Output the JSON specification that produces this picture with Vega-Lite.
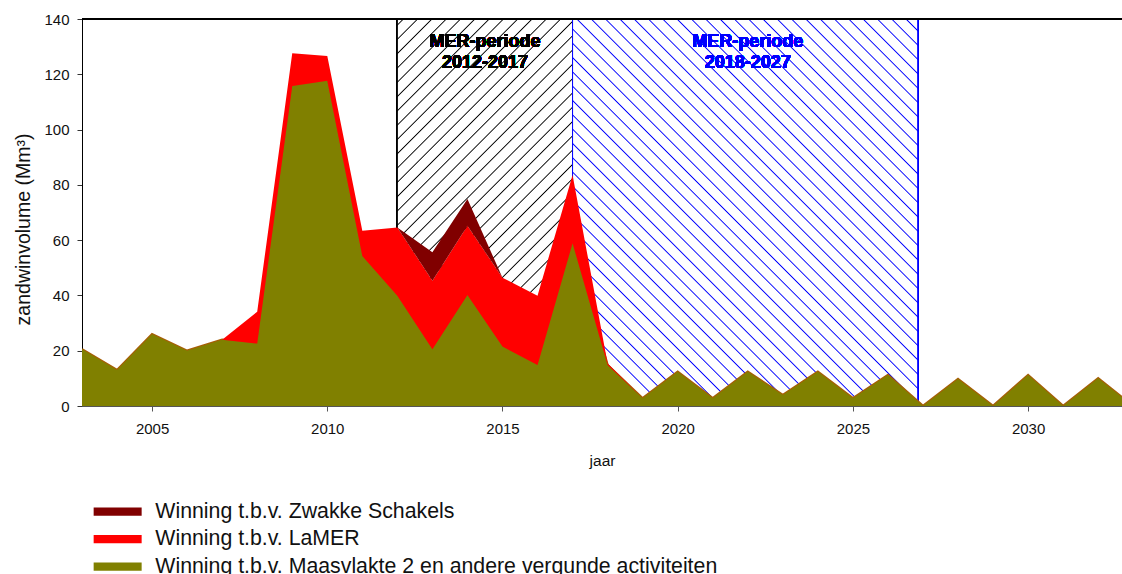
{
  "$schema": "https://vega.github.io/schema/vega-lite/v6.json",
  "autosize": {"type": "none"},
  "width": 1040,
  "height": 387,
  "padding": {"left": 82, "top": 19, "right": 0, "bottom": 168},
  "background": "white",
  "config": {"view": {"stroke": null}, "font": "Liberation Sans"},
  "data": {"values": [
    {"jaar": 2003, "s1_MV2": 20.5, "s2_LaMER": 0, "s3_ZS": 0},
    {"jaar": 2004, "s1_MV2": 13, "s2_LaMER": 0, "s3_ZS": 0},
    {"jaar": 2005, "s1_MV2": 26, "s2_LaMER": 0, "s3_ZS": 0},
    {"jaar": 2006, "s1_MV2": 20, "s2_LaMER": 0, "s3_ZS": 0},
    {"jaar": 2007, "s1_MV2": 24, "s2_LaMER": 0, "s3_ZS": 0},
    {"jaar": 2008, "s1_MV2": 22.6, "s2_LaMER": 11.5, "s3_ZS": 0},
    {"jaar": 2009, "s1_MV2": 115.8, "s2_LaMER": 11.8, "s3_ZS": 0},
    {"jaar": 2010, "s1_MV2": 117.7, "s2_LaMER": 8.9, "s3_ZS": 0},
    {"jaar": 2011, "s1_MV2": 54.3, "s2_LaMER": 9.1, "s3_ZS": 0},
    {"jaar": 2012, "s1_MV2": 39.9, "s2_LaMER": 24.7, "s3_ZS": 0},
    {"jaar": 2013, "s1_MV2": 20.5, "s2_LaMER": 24.8, "s3_ZS": 10.3},
    {"jaar": 2014, "s1_MV2": 40.2, "s2_LaMER": 25, "s3_ZS": 9.7},
    {"jaar": 2015, "s1_MV2": 21.5, "s2_LaMER": 24.9, "s3_ZS": 0},
    {"jaar": 2016, "s1_MV2": 14.8, "s2_LaMER": 25.1, "s3_ZS": 0},
    {"jaar": 2017, "s1_MV2": 58.9, "s2_LaMER": 24.7, "s3_ZS": 0},
    {"jaar": 2018, "s1_MV2": 14.8, "s2_LaMER": 0.6, "s3_ZS": 0},
    {"jaar": 2019, "s1_MV2": 2.8, "s2_LaMER": 0, "s3_ZS": 0},
    {"jaar": 2020, "s1_MV2": 12.4, "s2_LaMER": 0, "s3_ZS": 0},
    {"jaar": 2021, "s1_MV2": 2.8, "s2_LaMER": 0, "s3_ZS": 0},
    {"jaar": 2022, "s1_MV2": 12.4, "s2_LaMER": 0, "s3_ZS": 0},
    {"jaar": 2023, "s1_MV2": 4, "s2_LaMER": 0, "s3_ZS": 0},
    {"jaar": 2024, "s1_MV2": 12.4, "s2_LaMER": 0, "s3_ZS": 0},
    {"jaar": 2025, "s1_MV2": 2.8, "s2_LaMER": 0, "s3_ZS": 0},
    {"jaar": 2026, "s1_MV2": 11.2, "s2_LaMER": 0, "s3_ZS": 0},
    {"jaar": 2027, "s1_MV2": 0, "s2_LaMER": 0, "s3_ZS": 0},
    {"jaar": 2028, "s1_MV2": 9.8, "s2_LaMER": 0, "s3_ZS": 0},
    {"jaar": 2029, "s1_MV2": 0, "s2_LaMER": 0, "s3_ZS": 0},
    {"jaar": 2030, "s1_MV2": 11.2, "s2_LaMER": 0, "s3_ZS": 0},
    {"jaar": 2031, "s1_MV2": 0, "s2_LaMER": 0, "s3_ZS": 0},
    {"jaar": 2032, "s1_MV2": 10, "s2_LaMER": 0, "s3_ZS": 0},
    {"jaar": 2033, "s1_MV2": 0, "s2_LaMER": 0, "s3_ZS": 0}
  ]},
  "layer": [
    {
      "mark": {"type": "rect", "stroke": "black", "strokeWidth": 1,
        "fill": {"gradient": "linear", "x1": 0, "y1": 0, "x2": 0.5458, "y2": 1.2056, "stops": [
          {"offset": 0.0084, "color": "white"}, {"offset": 0.0107, "color": "black"}, {"offset": 0.0130, "color": "white"},
          {"offset": 0.0338, "color": "white"}, {"offset": 0.0361, "color": "black"}, {"offset": 0.0384, "color": "white"},
          {"offset": 0.0592, "color": "white"}, {"offset": 0.0615, "color": "black"}, {"offset": 0.0638, "color": "white"},
          {"offset": 0.0847, "color": "white"}, {"offset": 0.0870, "color": "black"}, {"offset": 0.0893, "color": "white"},
          {"offset": 0.1101, "color": "white"}, {"offset": 0.1124, "color": "black"}, {"offset": 0.1147, "color": "white"},
          {"offset": 0.1356, "color": "white"}, {"offset": 0.1379, "color": "black"}, {"offset": 0.1402, "color": "white"},
          {"offset": 0.1610, "color": "white"}, {"offset": 0.1633, "color": "black"}, {"offset": 0.1656, "color": "white"},
          {"offset": 0.1864, "color": "white"}, {"offset": 0.1887, "color": "black"}, {"offset": 0.1910, "color": "white"},
          {"offset": 0.2119, "color": "white"}, {"offset": 0.2142, "color": "black"}, {"offset": 0.2165, "color": "white"},
          {"offset": 0.2373, "color": "white"}, {"offset": 0.2396, "color": "black"}, {"offset": 0.2419, "color": "white"},
          {"offset": 0.2627, "color": "white"}, {"offset": 0.2650, "color": "black"}, {"offset": 0.2673, "color": "white"},
          {"offset": 0.2882, "color": "white"}, {"offset": 0.2905, "color": "black"}, {"offset": 0.2928, "color": "white"},
          {"offset": 0.3136, "color": "white"}, {"offset": 0.3159, "color": "black"}, {"offset": 0.3182, "color": "white"},
          {"offset": 0.3391, "color": "white"}, {"offset": 0.3414, "color": "black"}, {"offset": 0.3437, "color": "white"},
          {"offset": 0.3645, "color": "white"}, {"offset": 0.3668, "color": "black"}, {"offset": 0.3691, "color": "white"},
          {"offset": 0.3899, "color": "white"}, {"offset": 0.3922, "color": "black"}, {"offset": 0.3945, "color": "white"},
          {"offset": 0.4154, "color": "white"}, {"offset": 0.4177, "color": "black"}, {"offset": 0.4200, "color": "white"},
          {"offset": 0.4408, "color": "white"}, {"offset": 0.4431, "color": "black"}, {"offset": 0.4454, "color": "white"},
          {"offset": 0.4662, "color": "white"}, {"offset": 0.4685, "color": "black"}, {"offset": 0.4708, "color": "white"},
          {"offset": 0.4917, "color": "white"}, {"offset": 0.4940, "color": "black"}, {"offset": 0.4963, "color": "white"},
          {"offset": 0.5171, "color": "white"}, {"offset": 0.5194, "color": "black"}, {"offset": 0.5217, "color": "white"},
          {"offset": 0.5425, "color": "white"}, {"offset": 0.5448, "color": "black"}, {"offset": 0.5471, "color": "white"},
          {"offset": 0.5680, "color": "white"}, {"offset": 0.5703, "color": "black"}, {"offset": 0.5726, "color": "white"},
          {"offset": 0.5934, "color": "white"}, {"offset": 0.5957, "color": "black"}, {"offset": 0.5980, "color": "white"},
          {"offset": 0.6188, "color": "white"}, {"offset": 0.6211, "color": "black"}, {"offset": 0.6234, "color": "white"},
          {"offset": 0.6443, "color": "white"}, {"offset": 0.6466, "color": "black"}, {"offset": 0.6489, "color": "white"},
          {"offset": 0.6697, "color": "white"}, {"offset": 0.6720, "color": "black"}, {"offset": 0.6743, "color": "white"},
          {"offset": 0.6951, "color": "white"}, {"offset": 0.6974, "color": "black"}, {"offset": 0.6997, "color": "white"},
          {"offset": 0.7206, "color": "white"}, {"offset": 0.7229, "color": "black"}, {"offset": 0.7252, "color": "white"},
          {"offset": 0.7460, "color": "white"}, {"offset": 0.7483, "color": "black"}, {"offset": 0.7506, "color": "white"},
          {"offset": 0.7715, "color": "white"}, {"offset": 0.7738, "color": "black"}, {"offset": 0.7761, "color": "white"},
          {"offset": 0.7969, "color": "white"}, {"offset": 0.7992, "color": "black"}, {"offset": 0.8015, "color": "white"},
          {"offset": 0.8223, "color": "white"}, {"offset": 0.8246, "color": "black"}, {"offset": 0.8269, "color": "white"},
          {"offset": 0.8478, "color": "white"}, {"offset": 0.8501, "color": "black"}, {"offset": 0.8524, "color": "white"},
          {"offset": 0.8732, "color": "white"}, {"offset": 0.8755, "color": "black"}, {"offset": 0.8778, "color": "white"},
          {"offset": 0.8986, "color": "white"}, {"offset": 0.9009, "color": "black"}, {"offset": 0.9032, "color": "white"},
          {"offset": 0.9241, "color": "white"}, {"offset": 0.9264, "color": "black"}, {"offset": 0.9287, "color": "white"},
          {"offset": 0.9495, "color": "white"}, {"offset": 0.9518, "color": "black"}, {"offset": 0.9541, "color": "white"},
          {"offset": 0.9749, "color": "white"}, {"offset": 0.9772, "color": "black"}, {"offset": 0.9795, "color": "white"}
        ]}},
      "encoding": {
        "x": {"datum": 2012, "type": "quantitative", "scale": {"domain": [2003, 2032.68], "nice": false, "zero": false}},
        "x2": {"datum": 2017},
        "y": {"datum": 0, "type": "quantitative", "scale": {"domain": [0, 140], "nice": false}},
        "y2": {"datum": 140}
      }
    },
    {
      "mark": {"type": "rect", "stroke": "#0000ff", "strokeWidth": 1,
        "fill": {"gradient": "linear", "x1": 0, "y1": 1, "x2": 0.9397, "y2": -0.0538, "stops": [
          {"offset": 0.0050, "color": "white"}, {"offset": 0.0068, "color": "#0000ff"}, {"offset": 0.0086, "color": "white"},
          {"offset": 0.0246, "color": "white"}, {"offset": 0.0264, "color": "#0000ff"}, {"offset": 0.0282, "color": "white"},
          {"offset": 0.0441, "color": "white"}, {"offset": 0.0459, "color": "#0000ff"}, {"offset": 0.0477, "color": "white"},
          {"offset": 0.0637, "color": "white"}, {"offset": 0.0655, "color": "#0000ff"}, {"offset": 0.0673, "color": "white"},
          {"offset": 0.0832, "color": "white"}, {"offset": 0.0850, "color": "#0000ff"}, {"offset": 0.0868, "color": "white"},
          {"offset": 0.1028, "color": "white"}, {"offset": 0.1046, "color": "#0000ff"}, {"offset": 0.1064, "color": "white"},
          {"offset": 0.1223, "color": "white"}, {"offset": 0.1241, "color": "#0000ff"}, {"offset": 0.1259, "color": "white"},
          {"offset": 0.1418, "color": "white"}, {"offset": 0.1436, "color": "#0000ff"}, {"offset": 0.1454, "color": "white"},
          {"offset": 0.1614, "color": "white"}, {"offset": 0.1632, "color": "#0000ff"}, {"offset": 0.1650, "color": "white"},
          {"offset": 0.1809, "color": "white"}, {"offset": 0.1827, "color": "#0000ff"}, {"offset": 0.1845, "color": "white"},
          {"offset": 0.2005, "color": "white"}, {"offset": 0.2023, "color": "#0000ff"}, {"offset": 0.2041, "color": "white"},
          {"offset": 0.2200, "color": "white"}, {"offset": 0.2218, "color": "#0000ff"}, {"offset": 0.2236, "color": "white"},
          {"offset": 0.2396, "color": "white"}, {"offset": 0.2414, "color": "#0000ff"}, {"offset": 0.2432, "color": "white"},
          {"offset": 0.2591, "color": "white"}, {"offset": 0.2609, "color": "#0000ff"}, {"offset": 0.2627, "color": "white"},
          {"offset": 0.2787, "color": "white"}, {"offset": 0.2805, "color": "#0000ff"}, {"offset": 0.2823, "color": "white"},
          {"offset": 0.2982, "color": "white"}, {"offset": 0.3000, "color": "#0000ff"}, {"offset": 0.3018, "color": "white"},
          {"offset": 0.3177, "color": "white"}, {"offset": 0.3195, "color": "#0000ff"}, {"offset": 0.3213, "color": "white"},
          {"offset": 0.3373, "color": "white"}, {"offset": 0.3391, "color": "#0000ff"}, {"offset": 0.3409, "color": "white"},
          {"offset": 0.3568, "color": "white"}, {"offset": 0.3586, "color": "#0000ff"}, {"offset": 0.3604, "color": "white"},
          {"offset": 0.3764, "color": "white"}, {"offset": 0.3782, "color": "#0000ff"}, {"offset": 0.3800, "color": "white"},
          {"offset": 0.3959, "color": "white"}, {"offset": 0.3977, "color": "#0000ff"}, {"offset": 0.3995, "color": "white"},
          {"offset": 0.4155, "color": "white"}, {"offset": 0.4173, "color": "#0000ff"}, {"offset": 0.4191, "color": "white"},
          {"offset": 0.4350, "color": "white"}, {"offset": 0.4368, "color": "#0000ff"}, {"offset": 0.4386, "color": "white"},
          {"offset": 0.4546, "color": "white"}, {"offset": 0.4564, "color": "#0000ff"}, {"offset": 0.4582, "color": "white"},
          {"offset": 0.4741, "color": "white"}, {"offset": 0.4759, "color": "#0000ff"}, {"offset": 0.4777, "color": "white"},
          {"offset": 0.4936, "color": "white"}, {"offset": 0.4954, "color": "#0000ff"}, {"offset": 0.4972, "color": "white"},
          {"offset": 0.5132, "color": "white"}, {"offset": 0.5150, "color": "#0000ff"}, {"offset": 0.5168, "color": "white"},
          {"offset": 0.5327, "color": "white"}, {"offset": 0.5345, "color": "#0000ff"}, {"offset": 0.5363, "color": "white"},
          {"offset": 0.5523, "color": "white"}, {"offset": 0.5541, "color": "#0000ff"}, {"offset": 0.5559, "color": "white"},
          {"offset": 0.5718, "color": "white"}, {"offset": 0.5736, "color": "#0000ff"}, {"offset": 0.5754, "color": "white"},
          {"offset": 0.5914, "color": "white"}, {"offset": 0.5932, "color": "#0000ff"}, {"offset": 0.5950, "color": "white"},
          {"offset": 0.6109, "color": "white"}, {"offset": 0.6127, "color": "#0000ff"}, {"offset": 0.6145, "color": "white"},
          {"offset": 0.6304, "color": "white"}, {"offset": 0.6322, "color": "#0000ff"}, {"offset": 0.6340, "color": "white"},
          {"offset": 0.6500, "color": "white"}, {"offset": 0.6518, "color": "#0000ff"}, {"offset": 0.6536, "color": "white"},
          {"offset": 0.6695, "color": "white"}, {"offset": 0.6713, "color": "#0000ff"}, {"offset": 0.6731, "color": "white"},
          {"offset": 0.6891, "color": "white"}, {"offset": 0.6909, "color": "#0000ff"}, {"offset": 0.6927, "color": "white"},
          {"offset": 0.7086, "color": "white"}, {"offset": 0.7104, "color": "#0000ff"}, {"offset": 0.7122, "color": "white"},
          {"offset": 0.7282, "color": "white"}, {"offset": 0.7300, "color": "#0000ff"}, {"offset": 0.7318, "color": "white"},
          {"offset": 0.7477, "color": "white"}, {"offset": 0.7495, "color": "#0000ff"}, {"offset": 0.7513, "color": "white"},
          {"offset": 0.7672, "color": "white"}, {"offset": 0.7690, "color": "#0000ff"}, {"offset": 0.7708, "color": "white"},
          {"offset": 0.7868, "color": "white"}, {"offset": 0.7886, "color": "#0000ff"}, {"offset": 0.7904, "color": "white"},
          {"offset": 0.8063, "color": "white"}, {"offset": 0.8081, "color": "#0000ff"}, {"offset": 0.8099, "color": "white"},
          {"offset": 0.8259, "color": "white"}, {"offset": 0.8277, "color": "#0000ff"}, {"offset": 0.8295, "color": "white"},
          {"offset": 0.8454, "color": "white"}, {"offset": 0.8472, "color": "#0000ff"}, {"offset": 0.8490, "color": "white"},
          {"offset": 0.8650, "color": "white"}, {"offset": 0.8668, "color": "#0000ff"}, {"offset": 0.8686, "color": "white"},
          {"offset": 0.8845, "color": "white"}, {"offset": 0.8863, "color": "#0000ff"}, {"offset": 0.8881, "color": "white"},
          {"offset": 0.9040, "color": "white"}, {"offset": 0.9058, "color": "#0000ff"}, {"offset": 0.9076, "color": "white"},
          {"offset": 0.9236, "color": "white"}, {"offset": 0.9254, "color": "#0000ff"}, {"offset": 0.9272, "color": "white"},
          {"offset": 0.9431, "color": "white"}, {"offset": 0.9449, "color": "#0000ff"}, {"offset": 0.9467, "color": "white"},
          {"offset": 0.9627, "color": "white"}, {"offset": 0.9645, "color": "#0000ff"}, {"offset": 0.9663, "color": "white"},
          {"offset": 0.9822, "color": "white"}, {"offset": 0.9840, "color": "#0000ff"}, {"offset": 0.9858, "color": "white"}
        ]}},
      "encoding": {
        "x": {"datum": 2017, "type": "quantitative", "scale": {"domain": [2003, 2032.68], "nice": false, "zero": false}},
        "x2": {"datum": 2026.85},
        "y": {"datum": 0, "type": "quantitative", "scale": {"domain": [0, 140], "nice": false}},
        "y2": {"datum": 140}
      }
    },
    {
      "mark": {"type": "line", "color": "#a65e06", "strokeWidth": 2.4, "clip": true},
      "encoding": {
        "x": {"field": "jaar", "type": "quantitative", "title": "jaar", "scale": {"domain": [2003, 2032.68], "nice": false, "zero": false}},
        "y": {"field": "s1_MV2", "type": "quantitative", "title": "zandwinvolume (Mm³)", "scale": {"domain": [0, 140], "nice": false}}
      }
    },
    {
      "transform": [{"fold": ["s1_MV2", "s2_LaMER", "s3_ZS"], "as": ["key", "value"]}],
      "mark": {"type": "area", "clip": true, "interpolate": "linear"},
      "encoding": {
        "x": {"field": "jaar", "type": "quantitative", "title": "jaar",
          "scale": {"domain": [2003, 2032.68], "nice": false, "zero": false},
          "axis": {"title": "jaar", "values": [2005, 2010, 2015, 2020, 2025, 2030], "format": "d", "grid": false,
            "domainColor": "#555", "tickColor": "#555", "tickSize": 5, "labelFontSize": 15, "labelColor": "#111",
            "labelPadding": 10, "labelFont": "Liberation Sans", "titleFont": "Liberation Sans", "titleFontSize": 15.5,
            "titleFontWeight": "normal", "titleColor": "#111", "titlePadding": 17, "zindex": 1, "labelFlush": false}},
        "y": {"field": "value", "type": "quantitative", "stack": "zero", "title": "zandwinvolume (Mm³)",
          "scale": {"domain": [0, 140], "nice": false},
          "axis": {"title": "zandwinvolume (Mm³)", "values": [0, 20, 40, 60, 80, 100, 120, 140], "grid": false,
            "domainColor": "black", "tickColor": "#333", "tickSize": 5, "labelFontSize": 15, "labelColor": "#111",
            "labelPadding": 8, "labelFont": "Liberation Sans", "titleFont": "Liberation Sans", "titleFontSize": 19.5,
            "titleFontWeight": "normal", "titleColor": "#111", "titlePadding": 10, "titleY": 210}},
        "color": {"field": "key", "type": "nominal",
          "scale": {"domain": ["s3_ZS", "s2_LaMER", "s1_MV2"], "range": ["#800000", "#ff0000", "#808000"]},
          "legend": {"orient": "none", "legendX": 25, "legendY": 482, "direction": "vertical", "title": null,
            "symbolType": "M-4,-0.7H4V0.7H-4Z", "symbolSize": 144, "symbolStrokeWidth": 0, "symbolOpacity": 1,
            "labelFont": "Liberation Sans", "labelFontSize": 21.3, "labelColor": "#111", "labelOffset": 27,
            "rowPadding": 5.5, "padding": 0, "offset": 0, "labelLimit": 800,
            "labelExpr": "datum.value == 's3_ZS' ? 'Winning t.b.v. Zwakke Schakels' : datum.value == 's2_LaMER' ? 'Winning t.b.v. LaMER' : 'Winning t.b.v. Maasvlakte 2 en andere vergunde activiteiten'"}},
        "order": {"field": "key", "sort": "ascending"}
      }
    },
    {
      "mark": {"type": "rule", "color": "black", "strokeWidth": 1},
      "encoding": {
        "y": {"datum": 140, "type": "quantitative", "scale": {"domain": [0, 140], "nice": false}}
      }
    },
    {
      "mark": {"type": "text", "font": "Liberation Sans", "fontWeight": "bold", "fontSize": 18, "align": "center", "baseline": "alphabetic", "lineHeight": 21.5, "fill": "black", "strokeWidth": 0},
      "encoding": {
        "x": {"datum": 2014.5, "type": "quantitative", "scale": {"domain": [2003, 2032.68], "nice": false, "zero": false}},
        "y": {"datum": 130, "type": "quantitative", "scale": {"domain": [0, 140], "nice": false}},
        "text": {"value": ["MER-periode", "2012-2017"]}
      }
    },
    {
      "mark": {"type": "text", "font": "Liberation Sans", "fontWeight": "bold", "fontSize": 18, "align": "center", "baseline": "alphabetic", "lineHeight": 21.5, "fill": "#0000ff", "strokeWidth": 0},
      "encoding": {
        "x": {"datum": 2022, "type": "quantitative", "scale": {"domain": [2003, 2032.68], "nice": false, "zero": false}},
        "y": {"datum": 130, "type": "quantitative", "scale": {"domain": [0, 140], "nice": false}},
        "text": {"value": ["MER-periode", "2018-2027"]}
      }
    }
  ]
}
